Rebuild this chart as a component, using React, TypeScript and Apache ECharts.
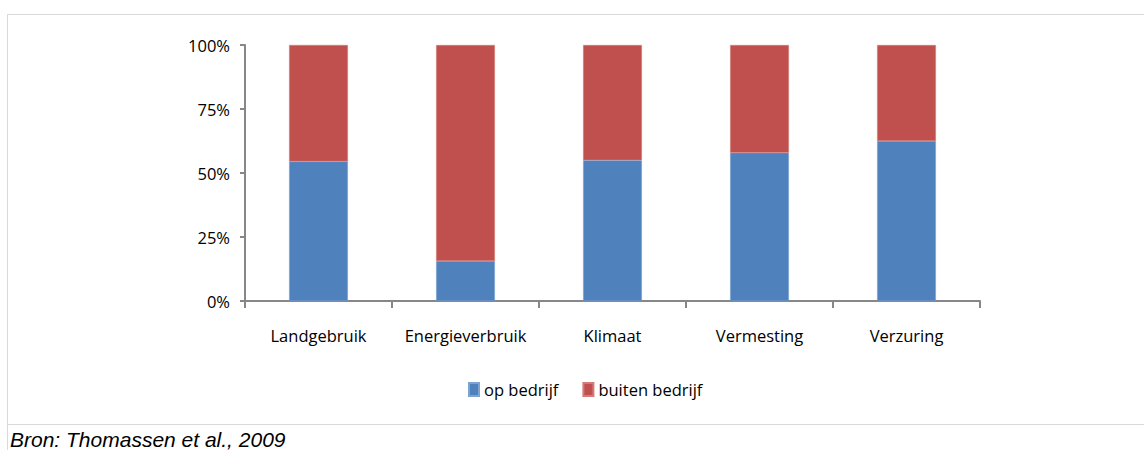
import React, { useEffect, useRef } from "react";
import * as echarts from "echarts";

const categories = ["Landgebruik", "Energieverbruik", "Klimaat", "Vermesting", "Verzuring"];
const opBedrijf = [54.5, 15.6, 55.0, 57.9, 62.5];
const buitenBedrijf = [45.5, 84.4, 45.0, 42.1, 37.5];
const seriesNames = ["op bedrijf", "buiten bedrijf"];
const sourceText = "Bron: Thomassen et al., 2009";

const FONT = "'Open Sans', 'Noto Sans', sans-serif";
const FS = 16.5;

export default function App() {
  const ref = useRef<HTMLDivElement>(null);
  useEffect(() => {
    document.body.style.margin = "0";
    const chart = echarts.init(ref.current!, null, { renderer: "svg" });
    chart.setOption({
      animation: false,
      backgroundColor: "#ffffff",
      grid: { left: 245, right: 164, top: 45, bottom: 149, containLabel: false },
      legend: {
        left: 463,
        top: 376,
        itemWidth: 10,
        itemHeight: 13,
        itemGap: 24,
        icon: "rect",
        textStyle: { fontFamily: FONT, fontSize: FS, color: "#000" },
        data: seriesNames,
      },
      xAxis: {
        type: "category",
        data: categories,
        boundaryGap: true,
        axisLine: { lineStyle: { color: "#878787", width: 2 } },
        axisTick: { show: true, length: 7, lineStyle: { color: "#878787", width: 2 } },
        axisLabel: { fontFamily: FONT, fontSize: FS, color: "#000", margin: 26, interval: 0 },
      },
      yAxis: {
        type: "value",
        min: 0,
        max: 100,
        interval: 25,
        splitLine: { show: false },
        axisLine: { show: true, lineStyle: { color: "#878787", width: 2 } },
        axisTick: { show: true, length: 5, lineStyle: { color: "#878787", width: 2 } },
        axisLabel: {
          fontFamily: FONT,
          fontSize: FS,
          color: "#000",
          margin: 15,
          formatter: (v: number) => v + "%",
        },
      },
      series: [
        {
          name: seriesNames[0],
          type: "bar",
          stack: "total",
          barWidth: "40%",
          data: opBedrijf,
          itemStyle: { color: "#4F81BD", borderColor: "#7FA3D0", borderWidth: 0.5 },
        },
        {
          name: seriesNames[1],
          type: "bar",
          stack: "total",
          barWidth: "40%",
          data: buitenBedrijf,
          itemStyle: { color: "#C0504D", borderColor: "#D47B78", borderWidth: 0.5 },
        },
      ],
      graphic: [
        { type: "line", shape: { x1: 7, y1: 14.5, x2: 1144, y2: 14.5 }, style: { stroke: "#d9d9d9", lineWidth: 1 } },
        { type: "line", shape: { x1: 7.5, y1: 14, x2: 7.5, y2: 450 }, style: { stroke: "#d9d9d9", lineWidth: 1 } },
        { type: "line", shape: { x1: 7, y1: 424.5, x2: 1144, y2: 424.5 }, style: { stroke: "#d9d9d9", lineWidth: 1 } },
        {
          type: "text",
          left: 10,
          top: 429,
          style: {
            text: sourceText,
            fontFamily: "'Liberation Sans', Arial, sans-serif",
            fontStyle: "italic",
            fontSize: 21,
            fill: "#000",
          },
        },
      ],
    });
    return () => chart.dispose();
  }, []);
  return <div ref={ref} style={{ width: 1144, height: 450 }} />;
}
